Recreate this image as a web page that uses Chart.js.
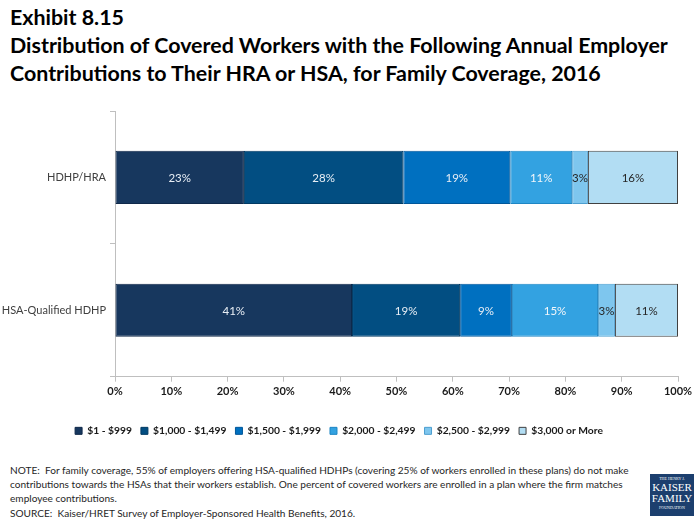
<!DOCTYPE html>
<html>
<head>
<meta charset="utf-8">
<script src="https://cdn.jsdelivr.net/npm/chart.js@4"></script>
<style>
  body { margin: 0; background: #fff; font-family: Lato, "Open Sans", sans-serif; }
  #wrap { position: relative; width: 698px; height: 523px; overflow: hidden; }
  .title { position: absolute; left: 10px; font-weight: bold; font-size: 21.4px; color: #000; white-space: nowrap; }
  #box { position: absolute; left: 0; top: 100px; width: 698px; height: 350px; }
  .note { position: absolute; left: 10px; font-size: 10.1px; color: #262626; line-height: 14px; width: 630px; }
  #logo { position: absolute; left: 650px; top: 474px; width: 44px; height: 42px; background: #1c3f6e;
          color: #fff; font-family: "Liberation Serif", serif; text-align: center; line-height: 1; }
</style>
</head>
<body>
<div id="wrap">
  <div class="title" style="top:4px">Exhibit 8.15</div>
  <div class="title" style="top:32px">Distribution of Covered Workers with the Following Annual Employer</div>
  <div class="title" style="top:60px">Contributions to Their HRA or HSA, for Family Coverage, 2016</div>
  <div id="box"><canvas id="c"></canvas></div>
  <div class="note" style="top:463px">NOTE:&nbsp; For family coverage, 55% of employers offering HSA-qualified HDHPs (covering 25% of workers enrolled in these plans) do not make contributions towards the HSAs that their workers establish. One percent of covered workers are enrolled in a plan where the firm matches employee contributions.</div>
  <div class="note" style="top:506px">SOURCE:&nbsp; Kaiser/HRET Survey of Employer-Sponsored Health Benefits, 2016.</div>
  <div id="logo">
    <div style="font-size:4px;padding-top:3px">THE HENRY J.</div>
    <div style="font-size:11px;margin-top:1px">KAISER</div>
    <div style="font-size:11px">FAMILY</div>
    <div style="font-size:4px;margin-top:2px">FOUNDATION</div>
  </div>
</div>
<script>
// categories and series
const plans = ["HDHP/HRA", "HSA-Qualified HDHP"];
const ranges = ["$1 - $999", "$1,000 - $1,499", "$1,500 - $1,999", "$2,000 - $2,499", "$2,500 - $2,999", "$3,000 or More"];
// bar widths
const hraValues = [22.9, 28.3, 19.0, 11.0, 2.8, 16.0];
const hsaValues = [42.1, 19.2, 9.2, 15.3, 3.0, 11.2];
// printed labels
const hraLabels = ["23%", "28%", "19%", "11%", "3%", "16%"];
const hsaLabels = ["41%", "19%", "9%", "15%", "3%", "11%"];
const xTicks = [0, 10, 20, 30, 40, 50, 60, 70, 80, 90, 100];

const fills = ["#17375e", "#024e82", "#0070c0", "#33a2e1", "#7ec6ee", "#b2ddf3"];
const edges = ["#10294a", "#013a63", "#00579a", "#1e86c4", "#4d9fd0", "#404040"];
const labelColors = ["#e8eef5", "#e8eef5", "#e8eef5", "#f2f6fa", "#262626", "#262626"];

const datasets = ranges.map((r, i) => ({
  label: r,
  data: [hraValues[i], hsaValues[i]],
  texts: [hraLabels[i], hsaLabels[i]],
  backgroundColor: fills[i],
  borderColor: edges[i],
  borderWidth: 1,
  borderSkipped: false,
  categoryPercentage: 1,
  barPercentage: 0.4
}));

// draw the percent labels in the middle of each segment
const segLabels = {
  id: "segLabels",
  afterDatasetsDraw(chart) {
    const ctx = chart.ctx;
    ctx.save();
    ctx.font = "11.5px Lato, sans-serif";
    ctx.textAlign = "center";
    ctx.textBaseline = "middle";
    chart.data.datasets.forEach((ds, i) => {
      chart.getDatasetMeta(i).data.forEach((el, j) => {
        ctx.fillStyle = labelColors[i];
        ctx.fillText(ds.texts[j], (el.x + el.base) / 2, el.y + 1);
      });
    });
    ctx.restore();
  }
};

new Chart(document.getElementById("c"), {
  type: "bar",
  data: { labels: plans, datasets: datasets },
  plugins: [segLabels],
  options: {
    indexAxis: "y",
    responsive: true,
    maintainAspectRatio: false,
    animation: false,
    layout: { padding: { top: 11, right: 20, left: 0, bottom: 4 } },
    scales: {
      x: {
        stacked: true,
        min: 0,
        max: 100,
        afterBuildTicks: (s) => { s.ticks = xTicks.map(v => ({ value: v })); },
        afterFit: (s) => { s.height = 40; },
        border: { color: "#bfbfbf" },
        grid: { drawOnChartArea: false, drawTicks: true, tickLength: 5, color: "#bfbfbf" },
        ticks: { callback: v => v + "%", color: "#1a1a1a", padding: 3, maxRotation: 0,
                 font: { family: "Lato", size: 11, weight: "bold" } }
      },
      y: {
        stacked: true,
        afterFit: (s) => { s.width = 115; },
        border: { color: "#bfbfbf" },
        grid: { drawOnChartArea: false, drawTicks: true, tickLength: 5, color: "#bfbfbf", offset: true },
        ticks: { color: "#404040", padding: 4, font: { family: "Lato", size: 11 } }
      }
    },
    plugins: {
      legend: {
        position: "bottom",
        labels: {
          boxWidth: 7, boxHeight: 7, padding: 9, color: "#1a1a1a",
          font: { family: "Lato", size: 10.3, weight: "bold" }
        }
      },
      tooltip: { enabled: false }
    }
  }
});
</script>
</body>
</html>
